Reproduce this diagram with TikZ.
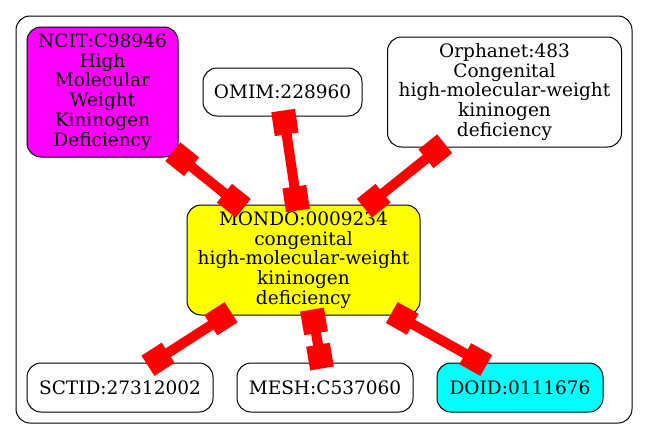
\documentclass[tikz,border=0pt]{standalone}
\usepackage{fontspec}
\setmainfont{DejaVu Serif}
\usetikzlibrary{calc}
\definecolor{gvmag}{RGB}{255,0,255}
\definecolor{gvyel}{RGB}{255,255,0}
\definecolor{gvcyan}{RGB}{0,255,255}
\definecolor{gvred}{RGB}{255,0,0}
\newcommand{\redge}[2]{%
  \draw[edgeline] (#1) -- (#2);
  \draw[edgebox] ($(#1)!-6pt!(#2)$) -- ($(#1)!18pt!(#2)$);
  \draw[edgebox] ($(#2)!-6pt!(#1)$) -- ($(#2)!18pt!(#1)$);
}
\begin{document}
\begin{tikzpicture}[x=1pt,y=-1pt,
  gvnode/.style={draw=black, line width=1pt, rounded corners=14pt, inner sep=0pt,
    align=center, font=\fontsize{18.5}{19.8}\selectfont},
  edgeline/.style={draw=gvred, line width=10pt, line cap=butt},
  edgebox/.style={draw=gvred, line width=24pt, line cap=butt}]
\useasboundingbox (0,0) rectangle (648,439);
\draw[line width=1pt, rounded corners=14pt] (16,16) rectangle (632,423);
\node[gvnode, fill=gvmag, minimum width=151pt, minimum height=130pt] (ncit) at (102.5,92)
  {NCIT:C98946\\High\\Molecular\\Weight\\Kininogen\\Deficiency};
\node[gvnode, minimum width=159pt, minimum height=48pt] (omim) at (282.5,92) {OMIM:228960};
\node[gvnode, minimum width=234pt, minimum height=110pt] (orph) at (504.5,92)
  {Orphanet:483\\Congenital\\high-molecular-weight\\kininogen\\deficiency};
\node[gvnode, fill=gvyel, minimum width=233pt, minimum height=110pt] (mondo) at (303.5,260)
  {MONDO:0009234\\congenital\\high-molecular-weight\\kininogen\\deficiency};
\node[gvnode, minimum width=186pt, minimum height=49pt] (sctid) at (120,387.5) {SCTID:27312002};
\node[gvnode, minimum width=176pt, minimum height=49pt] (mesh) at (325,387.5) {MESH:C537060};
\node[gvnode, fill=gvcyan, minimum width=166pt, minimum height=49pt] (doid) at (520,387.5) {DOID:0111676};
\coordinate (e1a) at ($(ncit.south east)+(-1,-2)$);
\coordinate (e1b) at ($(mondo.north west)+(52,0)$);
\coordinate (e2a) at ($(omim.south)+(1.5,0)$);
\coordinate (e2b) at ($(mondo.north)+(-6.5,0)$);
\coordinate (e3a) at ($(orph.south west)+(53,0)$);
\coordinate (e3b) at ($(mondo.north)+(65.5,0)$);
\coordinate (e4a) at ($(mondo.south)+(-77.5,0)$);
\coordinate (e4b) at ($(sctid.north)+(33,0)$);
\coordinate (e5a) at ($(mondo.south)+(9.5,0)$);
\coordinate (e5b) at ($(mesh.north)+(-4,0)$);
\coordinate (e6a) at ($(mondo.south)+(93.5,0)$);
\coordinate (e6b) at ($(doid.north)+(-39,0)$);
\redge{e1a}{e1b}
\redge{e2a}{e2b}
\redge{e3a}{e3b}
\redge{e4a}{e4b}
\redge{e5a}{e5b}
\redge{e6a}{e6b}
\end{tikzpicture}
\end{document}
